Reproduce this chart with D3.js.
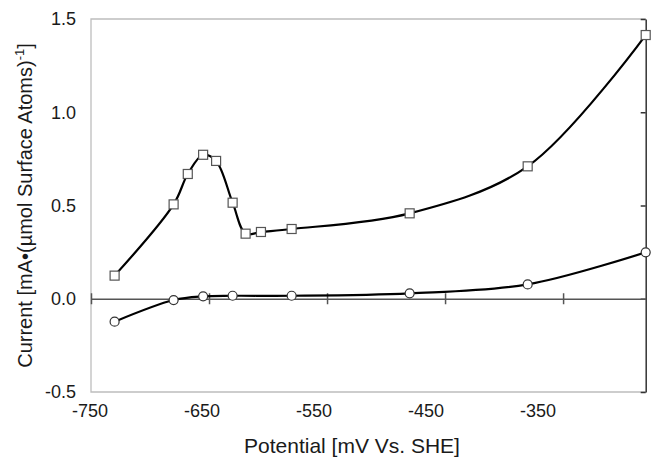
<!DOCTYPE html>
<html>
<head>
<meta charset="utf-8">
<script src="https://cdn.jsdelivr.net/npm/d3@7"></script>
<style>
  body { margin: 0; background: #fff; }
  svg text { font-family: "Liberation Sans", Arial, sans-serif; fill: #1a1a1a; }
</style>
</head>
<body>
<div id="chart"></div>
<script>
// --- data ---
const squarePotential = [-730, -680, -668, -655, -644, -630, -619, -606, -580, -480, -380, -280];
const squareCurrent   = [0.124, 0.506, 0.669, 0.772, 0.739, 0.515, 0.349, 0.358, 0.374, 0.458, 0.71, 1.414];
const circlePotential = [-730, -680, -655, -630, -580, -480, -380, -280];
const circleCurrent   = [-0.123, -0.007, 0.013, 0.016, 0.016, 0.029, 0.077, 0.249];
const xTickValues = [-750, -650, -550, -450, -350];
const yTickValues = [-0.5, 0, 0.5, 1.0, 1.5];

const W = 651, H = 463;
const plot = { left: 91, right: 645.7, top: 19, bottom: 392 };

const svg = d3.select("#chart")
  .append("svg")
  .attr("width", W)
  .attr("height", H);

const x = d3.scaleLinear().domain([-750, -280]).range([plot.left, plot.right]);
const y = d3.scaleLinear().domain([-0.5, 1.5]).range([plot.bottom, plot.top]);
// the printed x labels sit slightly off their ticks in the original figure
const xLabel = d3.scaleLinear().domain([-750, -350]).range([90, 538]);

// frame (left, top, bottom light grey)
svg.append("path")
  .attr("d", `M${plot.right},${plot.top}H${plot.left}V${plot.bottom}H${plot.right}`)
  .attr("fill", "none")
  .attr("stroke", "#bdbdbd")
  .attr("stroke-width", 1.3);

// y labels on the left
const yLabels = svg.append("g")
  .attr("transform", `translate(${plot.left - 12},0)`)
  .call(d3.axisLeft(y).tickValues(yTickValues).tickSize(0).tickFormat(d => d.toFixed(1)));
yLabels.select(".domain").remove();
yLabels.selectAll("text").attr("font-size", "18px").attr("fill", "#1a1a1a");

// y axis line on the right, ticks pointing into the plot
const yAxisR = svg.append("g")
  .attr("transform", `translate(${plot.right},0)`)
  .call(d3.axisLeft(y).tickValues(yTickValues).tickSizeInner(5).tickSizeOuter(0).tickFormat(""));
yAxisR.selectAll("path, line").attr("stroke", "#333").attr("stroke-width", 1.5);

// x axis along zero
const xAxis = svg.append("g")
  .attr("transform", `translate(0,${y(0)})`)
  .call(d3.axisBottom(x).tickValues(xTickValues).tickSizeInner(5.5).tickSizeOuter(0).tickFormat(""));
xAxis.selectAll("path, line").attr("stroke", "#555").attr("stroke-width", 1.5);
xAxis.selectAll(".tick line").attr("y1", -5.5);

// x labels at the bottom
svg.append("g")
  .selectAll("text")
  .data(xTickValues)
  .join("text")
  .attr("x", d => xLabel(d))
  .attr("y", 417)
  .attr("text-anchor", "middle")
  .attr("font-size", "18px")
  .text(d => d);

// axis titles
svg.append("text")
  .attr("x", 352)
  .attr("y", 453)
  .attr("text-anchor", "middle")
  .attr("font-size", "21px")
  .text("Potential [mV Vs. SHE]");

const yTitle = svg.append("text")
  .attr("transform", `translate(32,${(plot.top + plot.bottom) / 2}) rotate(-90)`)
  .attr("text-anchor", "middle")
  .attr("font-size", "20px");
yTitle.append("tspan").text("Current [mA\u2022(\u00b5mol Surface Atoms)");
yTitle.append("tspan").attr("font-size", "13px").attr("dy", "-8").text("-1");
yTitle.append("tspan").attr("dy", "8").text("]");

// series
const squares = squarePotential.map((p, i) => ({ p, c: squareCurrent[i] }));
const circles = circlePotential.map((p, i) => ({ p, c: circleCurrent[i] }));

const line = d3.line()
  .x(d => x(d.p))
  .y(d => y(d.c))
  .curve(d3.curveCatmullRom);

[squares, circles].forEach(s => {
  svg.append("path")
    .datum(s)
    .attr("d", line)
    .attr("fill", "none")
    .attr("stroke", "#000")
    .attr("stroke-width", 2.2);
});

svg.append("g")
  .selectAll("rect")
  .data(squares)
  .join("rect")
  .attr("x", d => x(d.p) - 4.5)
  .attr("y", d => y(d.c) - 4.5)
  .attr("width", 9)
  .attr("height", 9)
  .attr("fill", "#fff")
  .attr("stroke", "#555")
  .attr("stroke-width", 1.2);

svg.append("g")
  .selectAll("circle")
  .data(circles)
  .join("circle")
  .attr("cx", d => x(d.p))
  .attr("cy", d => y(d.c))
  .attr("r", 4.5)
  .attr("fill", "#fff")
  .attr("stroke", "#333")
  .attr("stroke-width", 1.2);
</script>
</body>
</html>
